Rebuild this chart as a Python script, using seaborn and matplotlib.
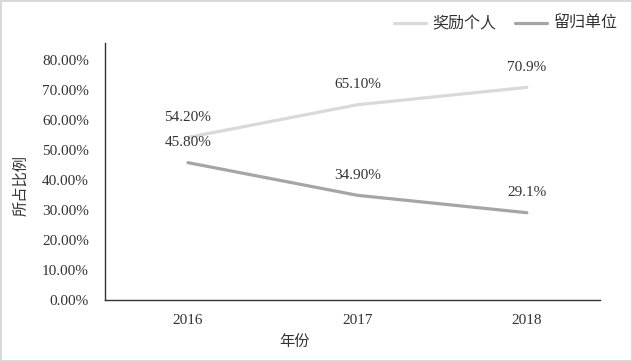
import pandas as pd
import seaborn as sns
import matplotlib.pyplot as plt

years = ["2016", "2017", "2018"]
reward_personal = [0.542, 0.651, 0.709]
retain_unit = [0.458, 0.349, 0.291]
reward_labels = ["54.20%", "65.10%", "70.9%"]
retain_labels = ["45.80%", "34.90%", "29.1%"]
series_names = ["奖励个人", "留归单位"]
y_ticks = [0.0, 0.1, 0.2, 0.3, 0.4, 0.5, 0.6, 0.7, 0.8]

df = pd.DataFrame({
    "年份": years * 2,
    "所占比例": reward_personal + retain_unit,
    "series": [series_names[0]] * 3 + [series_names[1]] * 3,
})

sns.set_theme(style="white")
plt.rcParams["font.family"] = ["Liberation Serif", "Noto Sans CJK SC"]

fig = plt.figure(figsize=(6.32, 3.61), dpi=100)
ax = fig.add_axes([0.166, 0.169, 0.783, 0.712])
fig.patch.set_edgecolor("#d9d9d9")
fig.patch.set_linewidth(2)

sns.lineplot(data=df, x="年份", y="所占比例", hue="series",
             palette=["#d9d9d9", "#a5a5a5"], linewidth=2.3, ax=ax, sort=False)

for i, yr in enumerate(years):
    ax.annotate(reward_labels[i], (i, reward_personal[i]), xytext=(0, 14.5),
                textcoords="offset points", ha="center", va="center",
                fontsize=11, color="#333333")
    ax.annotate(retain_labels[i], (i, retain_unit[i]), xytext=(0, 14.5),
                textcoords="offset points", ha="center", va="center",
                fontsize=11, color="#333333")

ax.set_xlim(-0.49, 2.43)
ax.set_ylim(0, 0.857)
ax.set_yticks(y_ticks)
ax.set_yticklabels([f"{v * 100:.2f}%" for v in y_ticks])
ax.tick_params(axis="both", length=0, labelsize=11, labelcolor="#333333")
ax.tick_params(axis="y", pad=11.5)
ax.tick_params(axis="x", pad=10)

for s in ["top", "right"]:
    ax.spines[s].set_visible(False)
for s in ["left", "bottom"]:
    ax.spines[s].set_color("#333333")
    ax.spines[s].set_linewidth(1)

ax.set_xlabel("年份", fontsize=11, color="#333333", family=["Noto Sans CJK SC"])
ax.set_ylabel("所占比例", fontsize=11, color="#333333", family=["Noto Sans CJK SC"])
ax.xaxis.set_label_coords(0.384, -0.13)
ax.yaxis.set_label_coords(-0.152, 0.447)

handles, labels = ax.get_legend_handles_labels()
fig.legend(handles, labels, loc="upper right", bbox_to_anchor=(1.0, 0.998),
           ncol=2, frameon=False, prop={"family": "Noto Sans CJK SC", "size": 11.5},
           handlelength=2.0, columnspacing=1.2, handletextpad=0.4,
           labelcolor="#333333")
ax.get_legend().remove()

fig.savefig("out.png", dpi=100)
